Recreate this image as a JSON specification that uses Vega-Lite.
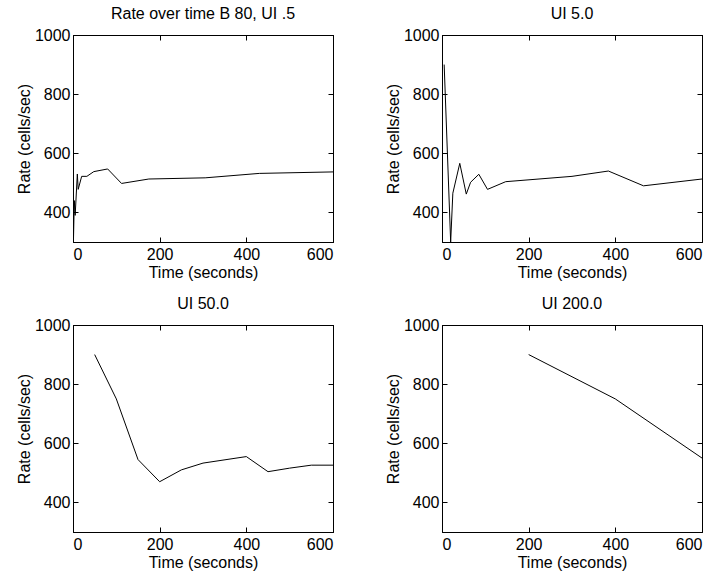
{
  "$schema": "https://vega.github.io/schema/vega-lite/v6.json",
  "background": "white",
  "padding": {"left": 15, "top": 5, "right": 5, "bottom": 5},
  "datasets": {
    "p1": [
      {"t": 1, "v": 300}, {"t": 3, "v": 440}, {"t": 5, "v": 390}, {"t": 10, "v": 530},
      {"t": 12, "v": 478}, {"t": 20, "v": 522}, {"t": 32, "v": 522}, {"t": 48, "v": 538},
      {"t": 80, "v": 547}, {"t": 112, "v": 498}, {"t": 175, "v": 513}, {"t": 305, "v": 517},
      {"t": 430, "v": 532}, {"t": 600, "v": 537}
    ],
    "p2": [
      {"t": 5, "v": 900}, {"t": 20, "v": 300}, {"t": 25, "v": 465}, {"t": 41, "v": 566},
      {"t": 56, "v": 462}, {"t": 66, "v": 502}, {"t": 85, "v": 529}, {"t": 105, "v": 478},
      {"t": 147, "v": 504}, {"t": 300, "v": 522}, {"t": 384, "v": 540}, {"t": 465, "v": 490},
      {"t": 600, "v": 513}
    ],
    "p3": [
      {"t": 50, "v": 900}, {"t": 100, "v": 750}, {"t": 150, "v": 545}, {"t": 200, "v": 470},
      {"t": 250, "v": 510}, {"t": 300, "v": 533}, {"t": 400, "v": 555}, {"t": 450, "v": 504},
      {"t": 500, "v": 516}, {"t": 550, "v": 526}, {"t": 600, "v": 526}
    ],
    "p4": [
      {"t": 200, "v": 900}, {"t": 400, "v": 750}, {"t": 600, "v": 550}
    ]
  },
  "columns": 2,
  "bounds": "flush",
  "spacing": {"column": 109, "row": 83},
  "concat": [
    {
      "title": "Rate over time B 80, UI .5",
      "width": 260, "height": 207,
      "data": {"name": "p1"},
      "layer": [
        {"mark": {"type": "line", "color": "black", "strokeWidth": 1, "clip": true},
         "encoding": {
           "x": {"field": "t", "type": "quantitative", "scale": {"domain": [0, 600], "nice": false}, "axis": {"title": "Time (seconds)", "values": [0, 200, 400, 600], "format": "d", "labelPadding": 9}},
           "y": {"field": "v", "type": "quantitative", "scale": {"domain": [300, 1000], "nice": false, "zero": false}, "axis": {"title": "Rate (cells/sec)", "values": [400, 600, 800, 1000], "format": "d"}}
         }},
        {"mark": {"type": "line", "opacity": 0, "clip": true},
         "encoding": {
           "x": {"field": "t", "type": "quantitative", "axis": {"orient": "top", "labels": false, "title": null, "values": [0, 200, 400, 600]}},
           "y": {"field": "v", "type": "quantitative", "axis": {"orient": "right", "labels": false, "title": null, "values": [400, 600, 800, 1000]}}
         }}
      ],
      "resolve": {"axis": {"x": "independent", "y": "independent"}}
    },
    {
      "title": "UI 5.0",
      "width": 260, "height": 207,
      "data": {"name": "p2"},
      "layer": [
        {"mark": {"type": "line", "color": "black", "strokeWidth": 1, "clip": true},
         "encoding": {
           "x": {"field": "t", "type": "quantitative", "scale": {"domain": [0, 600], "nice": false}, "axis": {"title": "Time (seconds)", "values": [0, 200, 400, 600], "format": "d", "labelPadding": 9}},
           "y": {"field": "v", "type": "quantitative", "scale": {"domain": [300, 1000], "nice": false, "zero": false}, "axis": {"title": "Rate (cells/sec)", "values": [400, 600, 800, 1000], "format": "d"}}
         }},
        {"mark": {"type": "line", "opacity": 0, "clip": true},
         "encoding": {
           "x": {"field": "t", "type": "quantitative", "axis": {"orient": "top", "labels": false, "title": null, "values": [0, 200, 400, 600]}},
           "y": {"field": "v", "type": "quantitative", "axis": {"orient": "right", "labels": false, "title": null, "values": [400, 600, 800, 1000]}}
         }}
      ],
      "resolve": {"axis": {"x": "independent", "y": "independent"}}
    },
    {
      "title": "UI 50.0",
      "width": 260, "height": 207,
      "data": {"name": "p3"},
      "layer": [
        {"mark": {"type": "line", "color": "black", "strokeWidth": 1, "clip": true},
         "encoding": {
           "x": {"field": "t", "type": "quantitative", "scale": {"domain": [0, 600], "nice": false}, "axis": {"title": "Time (seconds)", "values": [0, 200, 400, 600], "format": "d", "labelPadding": 9}},
           "y": {"field": "v", "type": "quantitative", "scale": {"domain": [300, 1000], "nice": false, "zero": false}, "axis": {"title": "Rate (cells/sec)", "values": [400, 600, 800, 1000], "format": "d"}}
         }},
        {"mark": {"type": "line", "opacity": 0, "clip": true},
         "encoding": {
           "x": {"field": "t", "type": "quantitative", "axis": {"orient": "top", "labels": false, "title": null, "values": [0, 200, 400, 600]}},
           "y": {"field": "v", "type": "quantitative", "axis": {"orient": "right", "labels": false, "title": null, "values": [400, 600, 800, 1000]}}
         }}
      ],
      "resolve": {"axis": {"x": "independent", "y": "independent"}}
    },
    {
      "title": "UI 200.0",
      "width": 260, "height": 207,
      "data": {"name": "p4"},
      "layer": [
        {"mark": {"type": "line", "color": "black", "strokeWidth": 1, "clip": true},
         "encoding": {
           "x": {"field": "t", "type": "quantitative", "scale": {"domain": [0, 600], "nice": false}, "axis": {"title": "Time (seconds)", "values": [0, 200, 400, 600], "format": "d", "labelPadding": 9}},
           "y": {"field": "v", "type": "quantitative", "scale": {"domain": [300, 1000], "nice": false, "zero": false}, "axis": {"title": "Rate (cells/sec)", "values": [400, 600, 800, 1000], "format": "d"}}
         }},
        {"mark": {"type": "line", "opacity": 0, "clip": true},
         "encoding": {
           "x": {"field": "t", "type": "quantitative", "axis": {"orient": "top", "labels": false, "title": null, "values": [0, 200, 400, 600]}},
           "y": {"field": "v", "type": "quantitative", "axis": {"orient": "right", "labels": false, "title": null, "values": [400, 600, 800, 1000]}}
         }}
      ],
      "resolve": {"axis": {"x": "independent", "y": "independent"}}
    }
  ],
  "config": {
    "font": "Liberation Sans",
    "view": {"stroke": "black", "strokeWidth": 1},
    "axis": {
      "grid": false,
      "domainColor": "black",
      "domainWidth": 1,
      "tickColor": "black",
      "tickSize": -5,
      "labelColor": "black",
      "titleColor": "black",
      "labelFont": "Liberation Sans",
      "titleFont": "Liberation Sans",
      "labelFontSize": 16,
      "titleFontSize": 16,
      "titleFontWeight": "normal",
      "labelPadding": 8,
      "titlePadding": 2
    },
    "title": {"font": "Liberation Sans", "fontSize": 16, "fontWeight": "normal", "color": "black", "offset": 5}
  }
}
